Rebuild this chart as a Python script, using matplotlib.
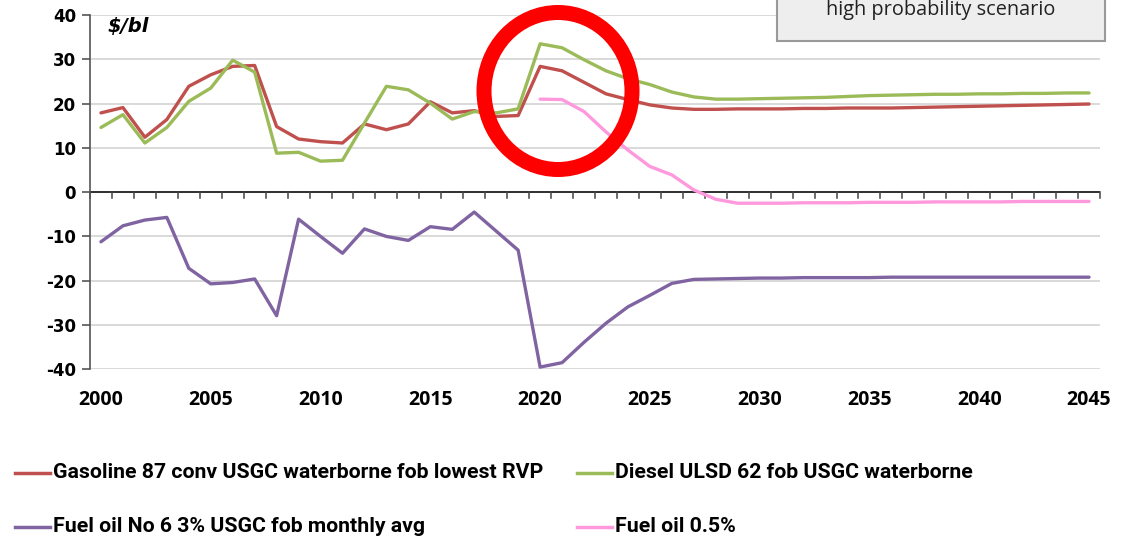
import matplotlib
matplotlib.use("Agg")
import matplotlib.pyplot as plt
from matplotlib.lines import Line2D
from matplotlib.patches import Ellipse, Rectangle

years = list(range(2000, 2046))
gasoline = [17.9, 19.1, 12.4, 16.4, 23.9, 26.5, 28.4, 28.6, 14.8, 12.0,
            11.4, 11.1, 15.4, 14.1, 15.4, 20.4, 17.9, 18.4, 17.1, 17.3,
            28.4, 27.4, 24.8, 22.2, 20.9, 19.7, 19.0, 18.7, 18.7, 18.8,
            18.8, 18.8, 18.9, 18.9, 19.0, 19.0, 19.0, 19.1, 19.2, 19.3,
            19.4, 19.5, 19.6, 19.7, 19.8, 19.9]
diesel = [14.6, 17.5, 11.1, 14.6, 20.5, 23.5, 29.8, 27.1, 8.8, 9.0,
          7.0, 7.2, 15.6, 23.9, 23.1, 20.1, 16.5, 18.2, 17.9, 18.8,
          33.5, 32.6, 29.9, 27.4, 25.6, 24.3, 22.6, 21.5, 21.0, 21.0,
          21.1, 21.2, 21.3, 21.4, 21.6, 21.8, 21.9, 22.0, 22.1, 22.1,
          22.2, 22.2, 22.3, 22.3, 22.4, 22.4]
fuel_oil_3 = [-11.2, -7.6, -6.3, -5.7, -17.2, -20.7, -20.4, -19.6, -27.9, -6.1,
              -10.0, -13.8, -8.3, -10.0, -10.9, -7.8, -8.4, -4.5, -8.8, -13.1,
              -39.5, -38.5, -33.9, -29.6, -25.9, -23.3, -20.6, -19.7, -19.6, -19.5,
              -19.4, -19.4, -19.3, -19.3, -19.3, -19.3, -19.2, -19.2, -19.2, -19.2,
              -19.2, -19.2, -19.2, -19.2, -19.2, -19.2]
years_fo05 = list(range(2020, 2046))
fuel_oil_05 = [21.0, 20.9, 18.2, 13.6, 9.5, 5.8, 3.9, 0.5, -1.6, -2.5,
               -2.5, -2.5, -2.4, -2.4, -2.4, -2.3, -2.3, -2.3, -2.2, -2.2,
               -2.2, -2.2, -2.1, -2.1, -2.1, -2.1]

labels = ["Gasoline 87 conv USGC waterborne fob lowest RVP",
          "Diesel ULSD 62 fob USGC waterborne",
          "Fuel oil No 6 3% USGC fob monthly avg",
          "Fuel oil 0.5%"]
colors = ["#C0504D", "#9BBB59", "#8064A2", "#FF99DD"]
xtick_years = [2000, 2005, 2010, 2015, 2020, 2025, 2030, 2035, 2040, 2045]
yticks = [-40, -30, -20, -10, 0, 10, 20, 30, 40]

W, H = 1137, 544
fig = plt.figure(figsize=(W / 100, H / 100), dpi=100)
ax = fig.add_axes([90 / W, 1 - 369.3 / H, 1010 / W, (369.3 - 15) / H])

lw = 2.4
for xs, ys, c in [(years, gasoline, colors[0]), (years, diesel, colors[1]),
                  (years, fuel_oil_3, colors[2]), (years_fo05, fuel_oil_05, colors[3])]:
    ax.plot(xs, ys, color=c, lw=lw, zorder=3, solid_joinstyle="round",
            solid_capstyle="round")

ax.set_xlim(1999.5, 2045.5)
ax.set_ylim(-40, 40)
for s in ["top", "right", "bottom"]:
    ax.spines[s].set_visible(False)
ax.spines["left"].set_color("#555555")
ax.spines["left"].set_linewidth(1.2)

ax.set_yticks(yticks)
ax.set_yticklabels([str(v) for v in yticks], fontsize=12, fontweight="bold",
                   family="DejaVu Sans")
ax.tick_params(axis="y", length=6, width=1.2, color="#555555", pad=4)
for v in yticks:
    ax.axhline(v, color="#D9D9D9", lw=1.4, zorder=1)

# x axis line crossing at 0 with category boundary ticks
ax.axhline(0, color="#222222", lw=1.3, zorder=2)
for b in range(len(years) + 1):
    xb = years[0] - 0.5 + b
    ax.plot([xb, xb], [0, -1.35], color="#444444", lw=1.1, zorder=2, clip_on=False)

ax.set_xticks(xtick_years)
ax.set_xticklabels([str(v) for v in xtick_years], fontsize=14, fontweight="bold",
                   family="Open Sans")
ax.tick_params(axis="x", length=0, pad=15)

ax.text(0.017, 1 - 11.5 / 354.3, "$/bl", transform=ax.transAxes, fontsize=14,
        fontweight="bold", fontstyle="italic", va="center", ha="left")

# scenario box
box = Rectangle((777 / W, 1 - 41 / H), 328 / W, 60 / H, transform=fig.transFigure,
                facecolor="#EEEEEE", edgecolor="#999999", lw=1.5, zorder=5)
fig.add_artist(box)
fig.text(941 / W, 1 - 15 / H, "high probability scenario", ha="center",
         va="baseline", fontsize=14.3, family="Open Sans", color="#222222", zorder=6)

# red circle highlight
circ = Ellipse((558 / W, 1 - 91 / H), 148 / W, 157 / H, transform=fig.transFigure,
               facecolor="none", edgecolor="#FF0000", lw=10.8, zorder=7)
fig.add_artist(circ)

# legend (manual layout), font size fitted to reference text width
renderer = fig.canvas.get_renderer()
probe = fig.text(0, 0, labels[0], fontsize=10, fontweight="bold", family="Roboto")
wpx = probe.get_window_extent(renderer).width
probe.remove()
leg_fs = 10 * 492 / wpx

leg_pos = [(15, 473), (577, 473), (15, 527), (577, 527)]
for (lx, ly), lab, col in zip(leg_pos, labels, colors):
    fig.add_artist(Line2D([lx / W, (lx + 35) / W], [1 - ly / H, 1 - ly / H],
                          transform=fig.transFigure, color=col, lw=2.5))
    fig.text((lx + 38) / W, 1 - ly / H, lab, ha="left", va="center",
             fontsize=leg_fs, fontweight="bold", family="Roboto")

fig.savefig("out.png", dpi=100)
